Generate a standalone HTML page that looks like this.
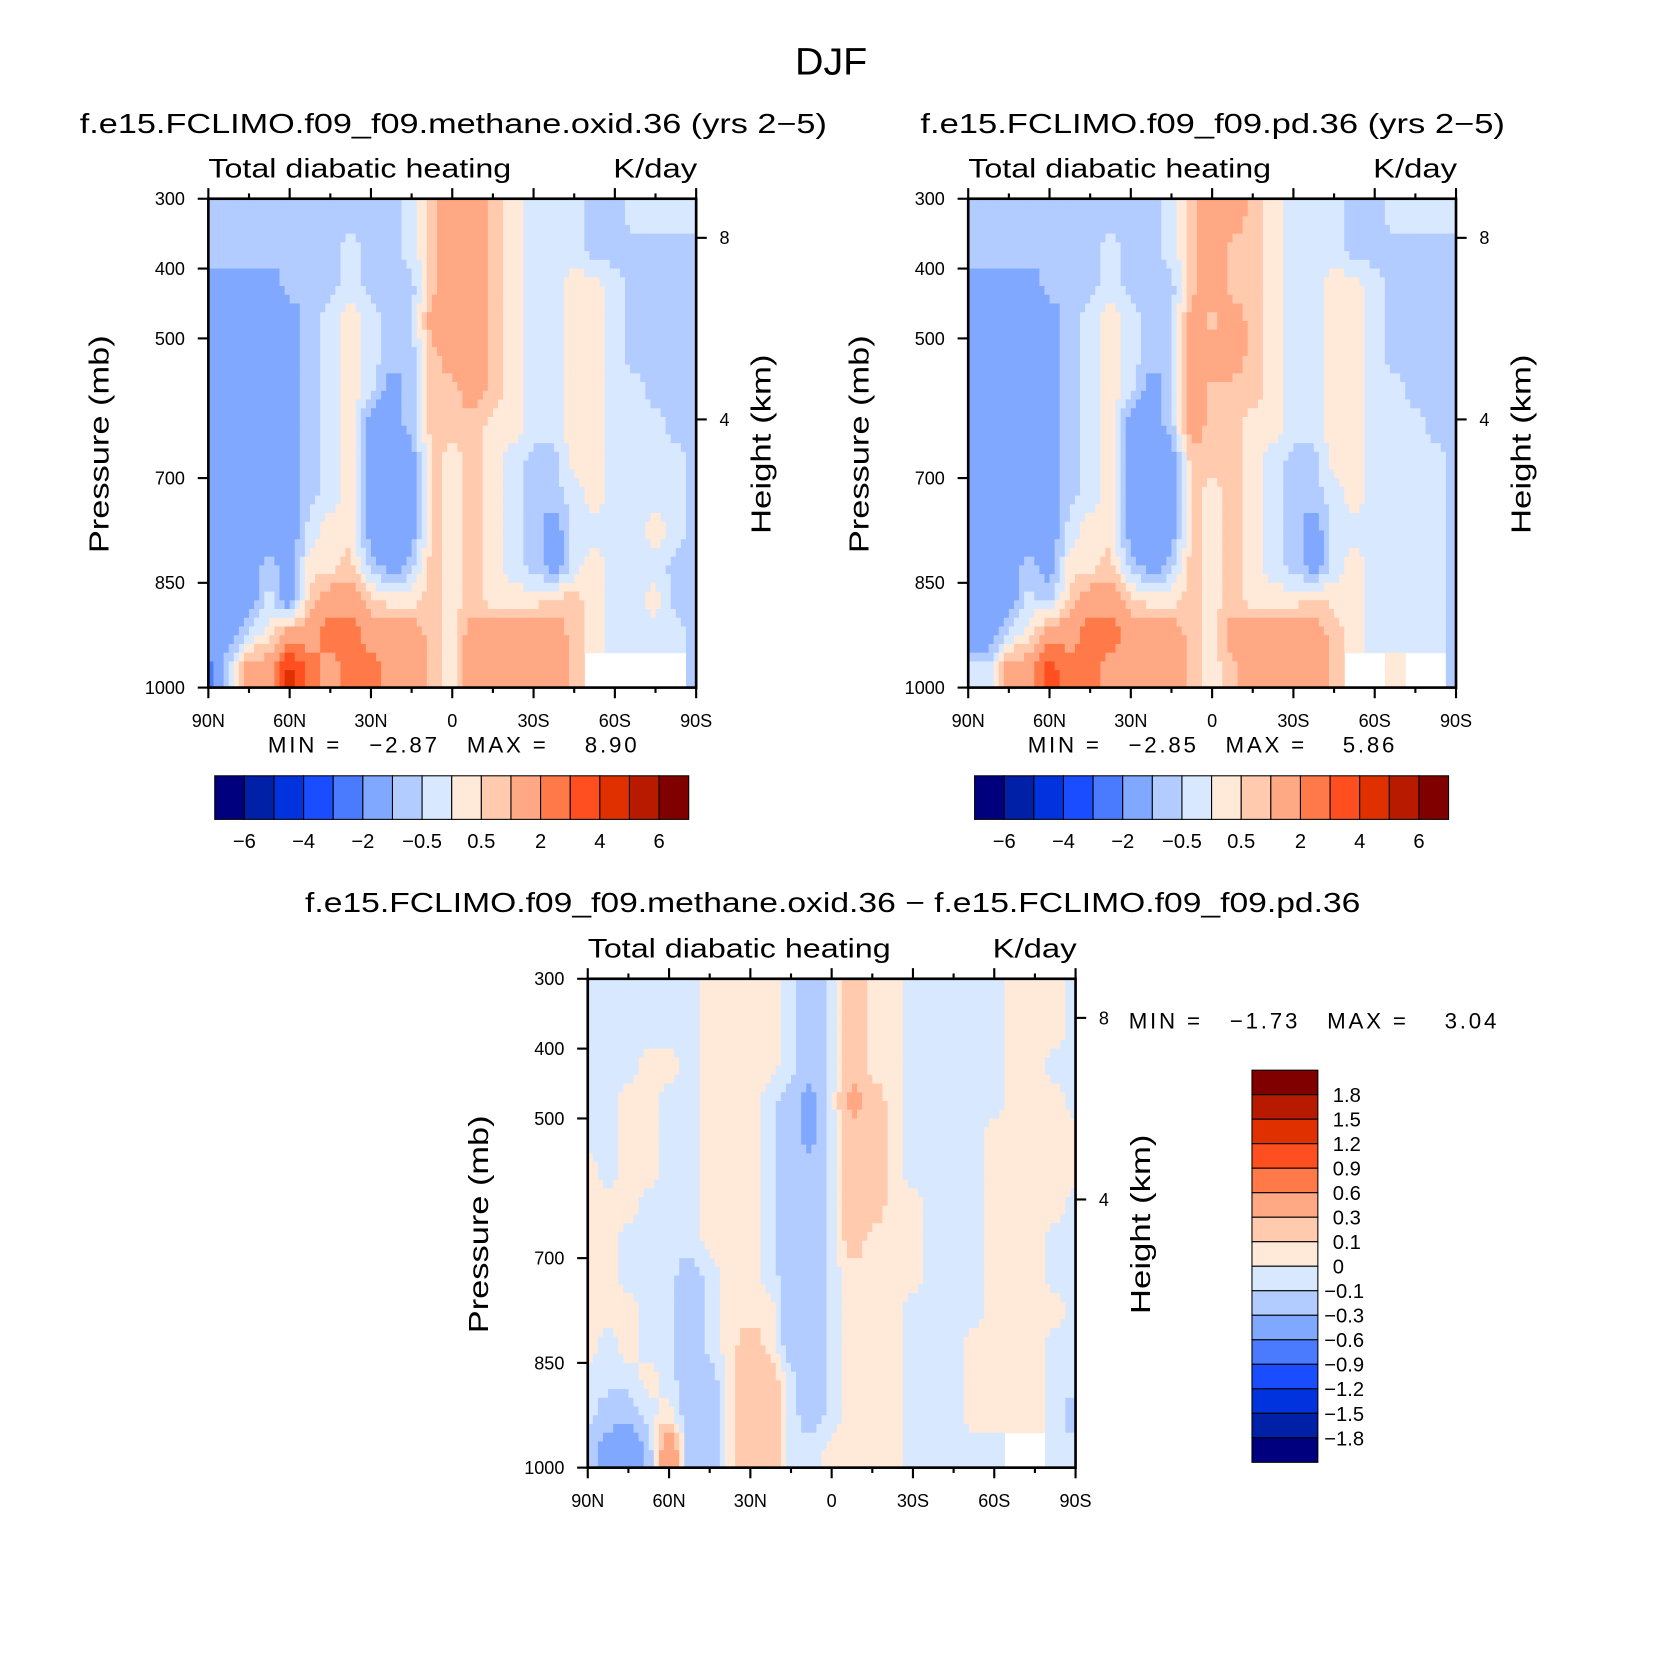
<!DOCTYPE html>
<html><head><meta charset="utf-8"><style>
html,body{margin:0;padding:0;background:#fff;}
svg{display:block;font-family:"Liberation Sans",sans-serif;}
text{white-space:pre;}
</style></head><body>
<svg id="fig" width="1658" height="1660" viewBox="0 0 1560 1562" xmlns="http://www.w3.org/2000/svg">
<rect width="1560" height="1562" fill="#fff"/>
<text x="782" y="70" font-size="36" text-anchor="middle" textLength="68" lengthAdjust="spacingAndGlyphs">DJF</text>
<g id="p1"></g><g id="p2"></g><g id="p3"></g>
</svg>
<script>
const lats=[90,82.5,75,67.5,60,52.5,45,37.5,30,22.5,15,7.5,0,-7.5,-15,-22.5,-30,-37.5,-45,-52.5,-60,-67.5,-75,-82.5,-90];
const pressures=[325,375,425,475,525,575,625,675,725,775,825,875,925,975];
const pTicks=[300,400,500,700,850,1000];
const latTicks=[90,60,30,0,-30,-60,-90];
const latTickLabels=["90N","60N","30N","0","30S","60S","90S"];
const heightKm=[8,4];
const heightP=[356,616];
const colors=["#00007f","#0020a8","#0033dd","#1a4dff","#4a7bff","#80a8ff","#b3ccff","#d8e8ff","#ffe9d9","#ffcaae","#ffa883","#ff7a48","#ff4f20","#e03000","#b81a00","#800000"];
const levels1=[-6,-5,-4,-3,-2,-1,-0.5,0,0.5,1,2,3,4,5,6];
const levels1Labels=["-6","","-4","","-2","","-0.5","","0.5","","2","","4","","6"];
const levels3=[-1.8,-1.5,-1.2,-0.9,-0.6,-0.3,-0.1,0,0.1,0.3,0.6,0.9,1.2,1.5,1.8];
const N=null;
const field1=[
[-.7,-.7,-.7,-.7,-.7,-.7,-.7,-.7,-.7,-.7,-.3,.7,1.5,1.5,.7,.3,-.3,-.3,-.3,-.7,-.7,-.3,-.3,-.3,-.3],
[-.7,-.7,-.7,-.7,-.7,-.7,-.7,-.3,-.7,-.7,-.3,.7,1.5,1.5,.7,.3,-.3,-.3,-.3,-.7,-.7,-.7,-.7,-.7,-.7],
[-1.5,-1.5,-1.5,-1.5,-.7,-.7,-.7,-.3,-.7,-.7,-.7,.7,1.5,1.5,.7,.3,-.3,-.3,.3,.3,-.3,-.7,-.7,-.7,-.7],
[-1.5,-1.5,-1.5,-1.5,-1.5,-.7,-.3,.3,-.3,-.7,-.7,1.5,1.5,1.5,.7,.3,-.3,-.3,.3,.3,-.3,-.7,-.7,-.7,-.7],
[-1.5,-1.5,-1.5,-1.5,-1.5,-.7,-.3,.3,-.3,-.7,-.7,.7,1.5,1.5,.7,.3,-.3,-.3,.3,.3,-.3,-.7,-.7,-.7,-.7],
[-1.5,-1.5,-1.5,-1.5,-1.5,-.7,-.3,.3,-.3,-1.5,-.7,.7,.7,1.5,.7,.3,-.3,-.3,.3,.3,-.3,-.3,-.7,-.7,-.7],
[-1.5,-1.5,-1.5,-1.5,-1.5,-.7,-.3,.3,-1.5,-1.5,-.7,.7,.7,.7,.3,.3,-.3,-.3,.3,.3,-.3,-.3,-.3,-.7,-.7],
[-1.5,-1.5,-1.5,-1.5,-1.5,-.7,-.3,.3,-1.5,-1.5,-1.5,.7,.3,.7,.3,-.3,-.7,-.7,.3,.3,-.3,-.3,-.3,-.3,-.7],
[-1.5,-1.5,-1.5,-1.5,-1.5,-.7,-.3,.3,-1.5,-1.5,-1.5,.7,.3,.7,.3,-.3,-.7,-.7,-.3,.3,-.3,-.3,-.3,-.3,-.7],
[-1.5,-1.5,-1.5,-1.5,-1.5,-.3,.3,.3,-1.5,-1.5,-1.5,.7,.3,.7,.3,-.3,-.7,-1.5,-.3,-.3,-.3,-.3,.3,-.3,-.7],
[-1.5,-1.5,-1.5,-.7,-1.5,.3,.3,.7,-.7,-1.5,-.7,.7,.3,.7,.3,-.3,-.7,-1.5,-.3,.3,-.3,-.3,-.3,-.7,-.7],
[-1.5,-1.5,-1.5,-.3,-1.5,.7,1.5,1.5,.7,.3,.3,.7,.3,.7,.3,.3,.3,.7,.7,.3,-.3,-.3,.3,-.7,-.7],
[-1.5,-1.5,-.3,.3,1.5,1.5,2.5,2.5,1.5,1.5,1.5,.7,.3,1.5,1.5,1.5,1.5,1.5,.7,.3,-.3,-.3,-.3,-.3,-.7],
[-2.5,-.3,1.5,1.5,4.5,2.5,1.5,2.5,2.5,1.5,1.5,.7,.3,1.5,1.5,1.5,1.5,1.5,.7,N,N,N,N,N,-.7]];
const field2=[
[-.7,-.7,-.7,-.7,-.7,-.7,-.7,-.7,-.7,-.7,-.3,.7,1.5,1.5,.7,.3,-.3,-.3,-.3,-.7,-.7,-.3,-.3,-.3,-.3],
[-.7,-.7,-.7,-.7,-.7,-.7,-.7,-.3,-.7,-.7,-.3,.7,1.5,.7,.7,.3,-.3,-.3,-.3,-.7,-.7,-.7,-.7,-.7,-.7],
[-1.5,-1.5,-1.5,-1.5,-.7,-.7,-.7,-.3,-.7,-.7,-.7,.7,1.5,.7,.7,.3,-.3,-.3,.3,.3,-.3,-.7,-.7,-.7,-.7],
[-1.5,-1.5,-1.5,-1.5,-1.5,-.7,-.3,.3,-.3,-.7,-.7,1.5,.7,1.5,.7,.3,-.3,-.3,.3,.3,-.3,-.7,-.7,-.7,-.7],
[-1.5,-1.5,-1.5,-1.5,-1.5,-.7,-.3,.3,-.3,-.7,-.7,1.5,1.5,1.5,.7,.3,-.3,-.3,.3,.3,-.3,-.7,-.7,-.7,-.7],
[-1.5,-1.5,-1.5,-1.5,-1.5,-.7,-.3,.3,-.3,-1.5,-.7,1.5,.7,.7,.7,.3,-.3,-.3,.3,.3,-.3,-.3,-.7,-.7,-.7],
[-1.5,-1.5,-1.5,-1.5,-1.5,-.7,-.3,.3,-1.5,-1.5,-.7,1.5,.7,.7,.3,.3,-.3,-.3,.3,.3,-.3,-.3,-.3,-.7,-.7],
[-1.5,-1.5,-1.5,-1.5,-1.5,-.7,-.3,.3,-1.5,-1.5,-1.5,.7,.7,.7,.3,-.3,-.7,-.7,.3,.3,-.3,-.3,-.3,-.3,-.7],
[-1.5,-1.5,-1.5,-1.5,-1.5,-.7,-.3,.3,-1.5,-1.5,-1.5,.7,.3,.7,.3,-.3,-.7,-.7,-.3,.3,-.3,-.3,-.3,-.3,-.7],
[-1.5,-1.5,-1.5,-1.5,-1.5,-.3,.3,.3,-1.5,-1.5,-1.5,.7,.3,.7,.3,-.3,-.7,-1.5,-.3,-.3,-.3,-.3,-.3,-.3,-.7],
[-1.5,-1.5,-1.5,-.7,-1.5,.3,.3,.7,-.7,-1.5,-.7,.7,.3,.7,.3,-.3,-.7,-1.5,-.3,.3,-.3,-.3,-.3,-.3,-.7],
[-1.5,-1.5,-1.5,-.3,-.7,.7,1.5,1.5,.7,.3,.3,.7,.3,.7,.3,.3,.3,.7,.3,.3,-.3,-.3,-.3,-.3,-.7],
[-1.5,-1.5,-.3,.3,1.5,1.5,2.5,2.5,1.5,1.5,1.5,.7,.3,1.5,1.5,1.5,1.5,1.5,.7,.3,-.3,-.3,-.3,-.3,-.7],
[-.3,-.3,1.5,1.5,3.5,2.5,2.5,1.5,1.5,1.5,1.5,.7,.3,.7,1.5,1.5,1.5,1.5,.7,N,N,.3,N,N,-.7]];
const field3=[
[-.05,-.05,-.05,-.05,-.05,-.05,.05,.05,.05,.05,-.05,-.2,-.05,.2,.05,.05,-.05,-.05,-.05,-.05,-.05,.05,.05,.05,-.05],
[-.05,-.05,-.05,-.05,-.05,-.05,.05,.05,.05,.05,-.05,-.2,-.05,.2,.05,.05,-.05,-.05,-.05,-.05,-.05,.05,.05,.05,-.05],
[-.05,-.05,-.05,.05,.05,-.05,.05,.05,.05,.05,-.05,-.2,-.05,.2,.05,.05,-.05,-.05,-.05,-.05,-.05,.05,.05,-.05,-.05],
[-.05,-.05,.05,.05,-.05,-.05,.05,.05,.05,-.05,-.2,-.4,-.05,.4,.2,.05,-.05,-.05,-.05,-.05,-.05,.05,.05,.05,-.05],
[-.05,-.05,.05,.05,-.05,-.05,.05,.05,.05,-.05,-.2,-.4,-.05,.2,.2,.05,-.05,-.05,-.05,-.05,.05,.05,.05,.05,.05],
[.05,-.05,.05,.05,-.05,-.05,.05,.05,.05,-.05,-.2,-.2,-.05,.2,.2,.05,-.05,-.05,-.05,-.05,.05,.05,.05,.05,.05],
[.05,.05,.05,-.05,-.05,-.05,.05,.05,.05,-.05,-.2,-.2,-.05,.2,.2,.05,.05,-.05,-.05,-.05,.05,.05,.05,.05,-.05],
[.05,.05,-.05,-.05,-.05,-.05,.05,.05,.05,-.05,-.2,-.2,-.05,.2,.05,.05,.05,-.05,-.05,-.05,.05,.05,.05,-.05,-.05],
[.05,.05,-.05,-.05,-.05,-.2,-.05,.05,.05,-.05,-.2,-.2,-.05,.05,.05,.05,.05,-.05,-.05,-.05,.05,.05,.05,-.05,-.05],
[.05,.05,.05,-.05,-.05,-.2,-.05,.05,.05,.05,-.2,-.2,-.05,.05,.05,.05,-.05,-.05,-.05,-.05,.05,.05,.05,.05,-.05],
[.05,-.05,.05,-.05,-.05,-.2,-.05,.05,.2,.05,-.2,-.2,-.05,.05,.05,.05,-.05,-.05,-.05,.05,.05,.05,.05,-.05,-.05],
[-.05,-.05,-.05,.05,-.05,-.2,-.2,.05,.2,.2,-.05,-.2,-.05,.05,.05,.05,-.05,-.05,-.05,.05,.05,.05,.05,-.05,-.05],
[-.05,-.2,-.2,-.05,.05,-.2,-.2,.05,.2,.2,-.05,-.2,-.05,.05,.05,.05,-.05,-.05,-.05,.05,.05,.05,.05,-.05,-.2],
[-.2,-.4,-.6,-.2,.6,-.2,-.2,.05,.2,.2,-.05,-.05,.05,.05,.05,.05,-.05,-.05,-.05,-.05,-.05,N,N,-.05,-.05]];

const NS="http://www.w3.org/2000/svg";
function mk(parent,tag,attrs,text){const e=document.createElementNS(NS,tag);for(const k in attrs)e.setAttribute(k,attrs[k]);if(text!==undefined)e.textContent=text;parent.appendChild(e);return e;}
function levelIndex(v,levels){let i=0;while(i<levels.length&&v>=levels[i])i++;return i;}
function sample(field,lat,p){
  const fi=Math.min(24,Math.max(0,(90-lat)/7.5));
  const fj=Math.min(pressures.length-1,Math.max(0,(p-pressures[0])/50));
  const ni=Math.round(fi),nj=Math.round(fj);
  if(field[nj][ni]===null)return null;
  const i0=Math.floor(fi),i1=Math.min(24,i0+1),j0=Math.floor(fj),j1=Math.min(pressures.length-1,j0+1);
  const a=field[j0][i0],b=field[j0][i1],c=field[j1][i0],d=field[j1][i1];
  if(a===null||b===null||c===null||d===null)return field[nj][ni];
  const tx=fi-i0,ty=fj-j0;
  return (a*(1-tx)+b*tx)*(1-ty)+(c*(1-tx)+d*tx)*ty;
}

function drawPanel(g,x0,y0,w,h,field,levels,name){
  const xs=lat=>x0+(90-lat)/180*w;
  const ys=p=>y0+(p-300)/700*h;
  const dl=1.875, dp=12.5;
  for(let p=300;p<1000;p+=dp){
    for(let la=90;la>-90;la-=dl){
      const v=sample(field,la-dl/2,p+dp/2);
      if(v===null)continue;
      const xa=xs(la),xb=xs(la-dl),ya=ys(p),yb=ys(p+dp);
      const r=mk(g,'rect',{x:xa,y:ya,width:xb-xa+0.5,height:yb-ya+0.5,fill:colors[levelIndex(v,levels)]});
      
      
    }
  }
  const fr=mk(g,'rect',{x:x0,y:y0,width:w,height:h,fill:'none',stroke:'#000','stroke-width':2.5});
  
  
  pTicks.forEach(p=>{
    mk(g,'line',{x1:x0-10,x2:x0,y1:ys(p),y2:ys(p),stroke:'#000','stroke-width':2});
    const t=mk(g,'text',{x:x0-22,y:ys(p)+6,'font-size':17,'text-anchor':'end'},String(p));
    
    
  });
  heightKm.forEach((k,i)=>{
    const y=ys(heightP[i]);
    mk(g,'line',{x1:x0+w,x2:x0+w+10,y1:y,y2:y,stroke:'#000','stroke-width':2});
    const t=mk(g,'text',{x:x0+w+22,y:y+6,'font-size':17},String(k));
    
    
  });
  for(let la=90;la>=-90;la-=15){
    const major=(la%30===0);const x=xs(la);const L=major?10:5;
    mk(g,'line',{x1:x,x2:x,y1:y0-L,y2:y0,stroke:'#000','stroke-width':2});
    mk(g,'line',{x1:x,x2:x,y1:y0+h,y2:y0+h+L,stroke:'#000','stroke-width':2});
  }
  latTicks.forEach((la,i)=>{
    const t=mk(g,'text',{x:xs(la),y:y0+h+37,'font-size':17,'text-anchor':'middle'},latTickLabels[i]);
    
    
  });
  let t=mk(g,'text',{x:x0,y:y0-20,'font-size':25,textLength:285,lengthAdjust:'spacingAndGlyphs'},'Total diabatic heating');
  
  
  t=mk(g,'text',{x:x0+w-78,y:y0-20,'font-size':25,textLength:79,lengthAdjust:'spacingAndGlyphs'},'K/day');
  
  
  const yc=y0+h/2+1;
  t=mk(g,'text',{x:x0-94,y:yc,'font-size':26,'text-anchor':'middle',textLength:205,lengthAdjust:'spacingAndGlyphs',transform:`rotate(-90 ${x0-94} ${yc})`},'Pressure (mb)');
  
  
  t=mk(g,'text',{x:x0+w+70,y:yc,'font-size':26,'text-anchor':'middle',textLength:169,lengthAdjust:'spacingAndGlyphs',transform:`rotate(-90 ${x0+w+70} ${yc})`},'Height (km)');
  
  
}

function hColorbar(g,x0,y0,w,h,name){
  const bw=w/colors.length;
  colors.forEach((c,i)=>{
    const r=mk(g,'rect',{x:x0+i*bw,y:y0,width:bw,height:h,fill:c,stroke:'#000','stroke-width':1});
    
    
  });
  levels1Labels.forEach((l,i)=>{
    if(!l)return;
    const t=mk(g,'text',{x:x0+(i+1)*bw,y:y0+h+27,'font-size':19,'text-anchor':'middle'},l.replace('-','\u2212'));
    
    
  });
}

function minmax(g,x,y,mn,mx,len,name){
  const t=mk(g,'text',{x:x,y:y,'font-size':21,textLength:len,lengthAdjust:'spacing'},'MIN =   '+mn+'   MAX =    '+mx);
  
  
}
function title(g,x,y,len,s,name){
  const t=mk(g,'text',{x:x,y:y,'font-size':26,textLength:len,lengthAdjust:'spacingAndGlyphs'},s);
  
  
}

const g1=document.getElementById('p1'),g2=document.getElementById('p2'),g3=document.getElementById('p3');
title(g1,75,125,703,'f.e15.FCLIMO.f09_f09.methane.oxid.36 (yrs 2\u22125)','panel1-title');
drawPanel(g1,196,187,459,460,field1,levels1,'panel1');
minmax(g1,252,708,'\u22122.87','8.90',347,'panel1');
hColorbar(g1,202,730,446,41,'panel1');

title(g2,866,125,550,'f.e15.FCLIMO.f09_f09.pd.36 (yrs 2\u22125)','panel2-title');
drawPanel(g2,911,187,459,460,field2,levels1,'panel2');
minmax(g2,967,708,'\u22122.85','5.86',345,'panel2');
hColorbar(g2,917,730,446,41,'panel2');

title(g3,287,858,993,'f.e15.FCLIMO.f09_f09.methane.oxid.36 \u2212 f.e15.FCLIMO.f09_f09.pd.36','panel3-title');
drawPanel(g3,553,921,459,460,field3,levels3,'panel3');
minmax(g3,1062,968,'\u22121.73','3.04',346,'panel3');
(function(){
  const x0=1178,y0=1007,w=62,h=369;const bh=h/colors.length;
  colors.slice().reverse().forEach((c,i)=>{
    const r=mk(g3,'rect',{x:x0,y:y0+i*bh,width:w,height:bh,fill:c,stroke:'#000','stroke-width':1});
    
    
  });
  levels3.slice().reverse().forEach((l,i)=>{
    const s=(l===0?'0':(l<0?'\u2212'+(-l).toString():l.toString()));
    const t=mk(g3,'text',{x:x0+w+(l<0?6:14),y:y0+(i+1)*bh+7,'font-size':19},s);
    
    
  });
})();
</script>
</body></html>
